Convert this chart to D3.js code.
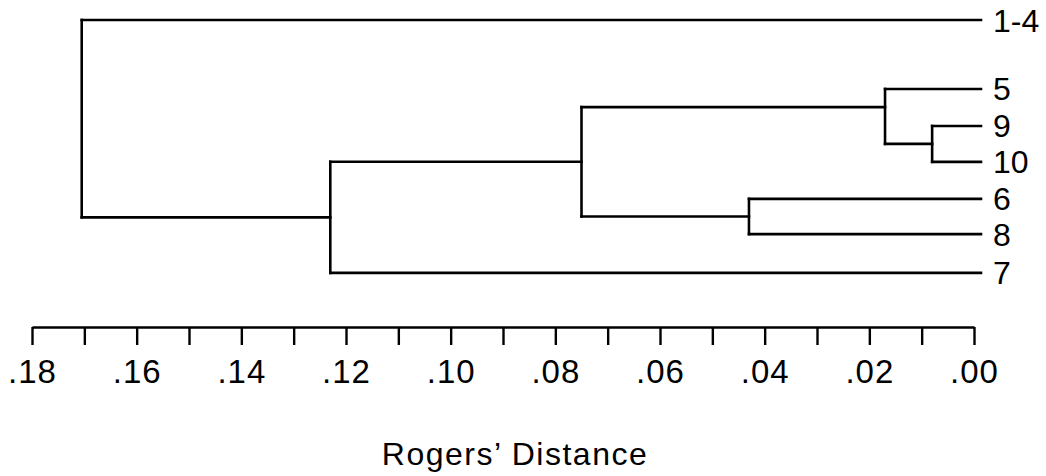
<!DOCTYPE html>
<html lang="en">
<head>
  <meta charset="UTF-8">
  <title>Rogers' Distance dendrogram</title>
  <style>
    body { margin: 0; background: #fff; }
    svg { display: block; font-family: 'Liberation Sans', Arial, Helvetica, sans-serif; }
    .branch { stroke: #000; stroke-width: 2.6; fill: none; stroke-linecap: square; }
    .axis path, .axis line { stroke: #000; stroke-width: 2.4; }
    .axis text { font-size: 33px; fill: #000; letter-spacing: 1px; }
    .leaf-label { font-size: 32px; fill: #000; }
    .title { font-size: 32px; fill: #000; letter-spacing: 1.5px; }
  </style>
</head>
<body>
  <svg id="chart" width="1046" height="476"></svg>

  <script src="https://d3js.org/d3.v7.min.js"></script>
  <script>
    // leaves, top to bottom, with their row position
    const leaves = ["1-4", "5", "9", "10", "6", "8", "7"];
    const leafRows = [0, 1.9, 2.92, 3.91, 4.93, 5.9, 6.97];

    // merges: left child, right child, height (Rogers' distance), join point (0 = at left child, 1 = at right)
    const mergeIds = ["n0", "n1", "n2", "n3", "n4", "n5"];
    const mergeLeft = ["9", "5", "6", "n1", "n3", "1-4"];
    const mergeRight = ["10", "n0", "8", "n2", "7", "n4"];
    const mergeHeight = [0.008, 0.017, 0.043, 0.075, 0.123, 0.1705];
    const mergeJoin = [0.5, 0.33, 0.5, 0.5, 0.5, 0.5];

    const tickValues = d3.range(19).map(i => i / 100);
    const axisTitle = "Rogers\u2019 Distance";

    const svg = d3.select('#chart');

    const x = d3.scaleLinear().domain([0.18, 0]).range([32, 974]);
    const y = d3.scaleLinear().domain([0, 7]).range([20, 274]);
    const leafEnd = x(0) + 7;

    // position of every node (leaf or merge)
    const pos = {};
    leaves.forEach((name, i) => { pos[name] = { x: leafEnd, y: y(leafRows[i]), h: 0 }; });
    mergeIds.forEach((id, i) => {
      const a = pos[mergeLeft[i]], b = pos[mergeRight[i]];
      pos[id] = { x: x(mergeHeight[i]), y: a.y + mergeJoin[i] * (b.y - a.y), top: a.y, bottom: b.y };
    });

    const g = svg.append('g');

    // horizontal branch from each child to its parent's height
    mergeIds.forEach((id, i) => {
      const p = pos[id];
      [mergeLeft[i], mergeRight[i]].forEach(c => {
        const ch = pos[c];
        g.append('line').attr('class', 'branch')
          .attr('x1', p.x).attr('x2', ch.x)
          .attr('y1', ch.y).attr('y2', ch.y);
      });
      g.append('line').attr('class', 'branch')
        .attr('x1', p.x).attr('x2', p.x)
        .attr('y1', p.top).attr('y2', p.bottom);
    });

    // leaf labels
    g.selectAll('text.leaf-label')
      .data(leaves)
      .enter().append('text')
      .attr('class', 'leaf-label')
      .attr('x', leafEnd + 12)
      .attr('y', d => pos[d].y)
      .attr('dy', '0.36em')
      .text(d => d);

    // distance axis
    const axis = d3.axisBottom(x)
      .tickValues(tickValues)
      .tickSize(18)
      .tickSizeOuter(0)
      .tickPadding(15)
      .tickFormat((d, i) => i % 2 === 0 ? d3.format('.2f')(d).replace(/^0/, '') : '');

    svg.append('g')
      .attr('class', 'axis')
      .attr('transform', 'translate(0,327)')
      .call(axis)
      .call(s => s.selectAll('text').attr('font-family', null).attr('font-size', null));

    svg.append('text')
      .attr('class', 'title')
      .attr('x', 515)
      .attr('y', 465)
      .attr('text-anchor', 'middle')
      .text(axisTitle);
  </script>
</body>
</html>
